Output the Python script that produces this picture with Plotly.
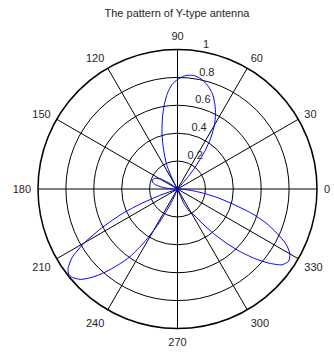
import plotly.graph_objects as go

# Pattern (angle in degrees, normalised radius)
theta_deg = [0, 10, 20, 30, 40, 45, 47, 49, 51, 54, 57, 60, 63, 66, 70, 74, 78, 82, 86, 90,
             93, 96, 99, 102, 105, 108, 111, 114, 116, 118, 120, 135, 140, 145, 150, 155,
             160, 165, 170, 175, 180, 185, 195, 198, 200, 202, 204, 207, 210, 213, 216,
             218, 220, 223, 226, 229, 232, 235, 238, 241, 244, 247, 250, 260, 280, 290,
             292, 294, 298, 303, 306, 309, 312, 315, 318, 321, 324, 327, 330, 333, 336,
             339, 342, 345, 348, 351, 354, 357, 360]
r_vals = [0, 0, 0, 0, 0, 0, 0.0, 0.12, 0.2, 0.33, 0.44, 0.53, 0.6, 0.66, 0.73, 0.775, 0.808,
          0.822, 0.815, 0.785, 0.75, 0.69, 0.61, 0.52, 0.43, 0.34, 0.26, 0.19, 0.12, 0.05, 0,
          0, 0.01, 0.08, 0.145, 0.18, 0.192, 0.185, 0.15, 0.09, 0.03, 0, 0, 0, 0.14, 0.29,
          0.43, 0.6, 0.77, 0.9, 0.97, 0.99, 0.985, 0.95, 0.88, 0.79, 0.69, 0.59, 0.45, 0.3,
          0.16, 0.06, 0, 0, 0, 0, 0.04, 0.12, 0.18, 0.23, 0.31, 0.41, 0.52, 0.635, 0.745,
          0.845, 0.925, 0.95, 0.93, 0.875, 0.78, 0.68, 0.55, 0.4, 0.29, 0.18, 0.1, 0.04, 0]

angle_ticks = [0, 30, 60, 90, 120, 150, 180, 210, 240, 270, 300, 330]
angle_labels = [str(a) for a in angle_ticks]
radial_ticks = [0.2, 0.4, 0.6, 0.8, 1.0]
radial_labels = ["0.2", "0.4", "0.6", "0.8", "1"]
radial_label_angle = 82

title_text = "The pattern of Y-type antenna"
font_family = "Liberation Sans, Arial, sans-serif"
text_color = "#262626"
label_pad = "\u00a0\u00a0"

fig = go.Figure()
fig.add_trace(go.Scatterpolar(
    r=r_vals, theta=theta_deg, mode="lines",
    line=dict(color="#0000ff", width=1, shape="spline", smoothing=0.6),
    hoverinfo="skip"))
fig.add_trace(go.Scatterpolar(
    r=radial_ticks, theta=[radial_label_angle] * len(radial_ticks),
    mode="text", text=[label_pad + t for t in radial_labels], textposition="top right",
    textfont=dict(size=11, color=text_color, family=font_family),
    cliponaxis=False, hoverinfo="skip"))

W, H = 334, 361
cx, cy, R = 177.5, 189.0, 139.5
fig.update_layout(
    width=W, height=H,
    margin=dict(l=0, r=0, t=0, b=0),
    paper_bgcolor="white",
    showlegend=False,
    font=dict(family=font_family, size=11, color=text_color),
    title=dict(text=title_text, x=177 / W, y=1 - 13 / H, xanchor="center",
               yanchor="middle", xref="paper", yref="paper",
               font=dict(size=11, color=text_color, family=font_family)),
    polar=dict(
        domain=dict(x=[(cx - R) / W, (cx + R) / W], y=[1 - (cy + R) / H, 1 - (cy - R) / H]),
        bgcolor="white",
        angularaxis=dict(
            direction="counterclockwise", rotation=0,
            tickmode="array", tickvals=angle_ticks, ticktext=angle_labels,
            showgrid=True, gridcolor="black", gridwidth=0.8,
            showline=True, linecolor="black", linewidth=1.5,
            ticks="outside", ticklen=4, tickcolor="rgba(0,0,0,0)",
            tickfont=dict(size=11, color=text_color, family=font_family)),
        radialaxis=dict(
            range=[0, 1], tickmode="array", tickvals=radial_ticks,
            showticklabels=False, ticks="", showline=False,
            showgrid=True, gridcolor="black", gridwidth=0.8),
    ),
)

fig.write_html("out.html")
